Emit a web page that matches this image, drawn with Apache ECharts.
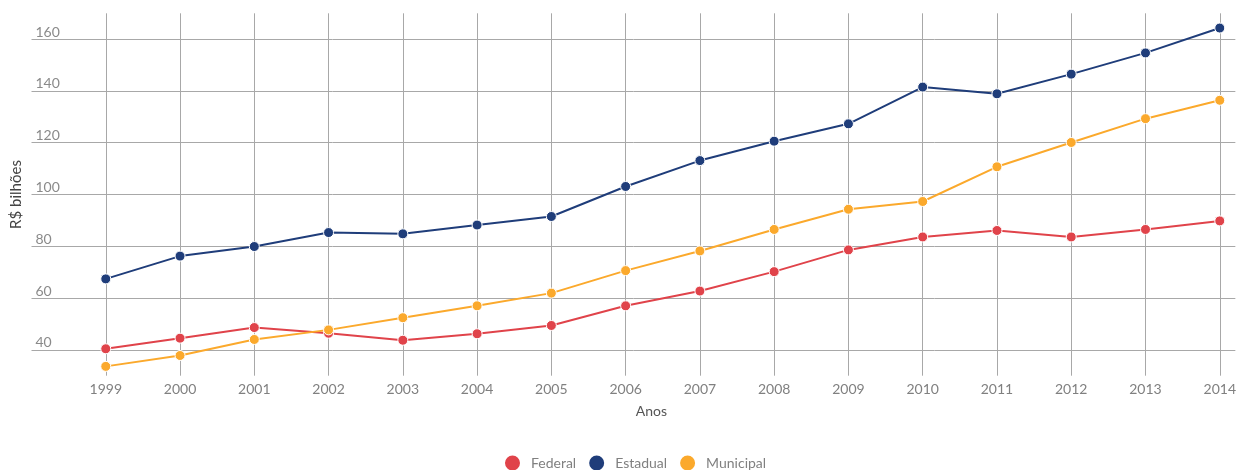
<!DOCTYPE html>
<html>
<head>
<meta charset="utf-8">
<title>R$ bilhões por esfera</title>
<script src="https://cdn.jsdelivr.net/npm/echarts@6/dist/echarts.min.js"></script>
<style>
  html, body { margin: 0; padding: 0; background: #fff; }
  #chart { width: 1239px; height: 470px; }
</style>
</head>
<body>
<div id="chart"></div>
<script>
// anos e valores (R$ bilhões)
var anos = [1999, 2000, 2001, 2002, 2003, 2004, 2005, 2006, 2007, 2008, 2009, 2010, 2011, 2012, 2013, 2014];
var federal = [40.4, 44.5, 48.6, 46.4, 43.7, 46.2, 49.4, 57.0, 62.7, 70.2, 78.6, 83.6, 86.1, 83.6, 86.5, 89.8];
var estadual = [67.4, 76.2, 79.9, 85.3, 84.8, 88.2, 91.5, 103.1, 113.1, 120.6, 127.3, 141.5, 138.9, 146.5, 154.7, 164.3];
var municipal = [33.6, 37.8, 44.0, 47.7, 52.4, 57.0, 61.9, 70.6, 78.2, 86.5, 94.3, 97.3, 110.7, 120.1, 129.3, 136.4];
var nomes = ['Federal', 'Estadual', 'Municipal'];
var cores = ['#e0434a', '#1f3d7a', '#fba92c'];

var FONT = 'Lato, "Open Sans", sans-serif';

function pares(valores) {
    var out = [];
    for (var i = 0; i < anos.length; i++)
        out.push([anos[i], valores[i]]);
    return out;
}

function serie(nome, valores, cor) {
    return {
        name: nome,
        type: 'line',
        data: pares(valores),
        symbol: 'circle',
        symbolSize: 10,
        lineStyle: { width: 2, color: cor },
        itemStyle: { color: cor, borderColor: '#fff', borderWidth: 1 },
        emphasis: { disabled: true }
    };
}

var chart = echarts.init(document.getElementById('chart'));
chart.setOption({
    animation: false,
    color: cores,
    textStyle: { fontFamily: FONT },
    grid: { left: 31.5, right: 0, top: 13.3, bottom: 94.3, containLabel: false },
    xAxis: {
        type: 'value',
        min: 1998,
        max: 2014.21,
        interval: 1,
        name: 'Anos',
        nameLocation: 'middle',
        nameGap: 29,
        nameTextStyle: { fontSize: 14, color: '#555', fontFamily: FONT, padding: [0, 0, 0, 36] },
        axisLine: { show: false },
        axisTick: { show: false },
        axisLabel: {
            showMinLabel: false,
            showMaxLabel: false,
            margin: 7,
            fontSize: 14,
            color: '#808080',
            fontFamily: FONT,
            formatter: function (v) { return String(v); }
        },
        splitLine: {
            show: true,
            showMinLine: false,
            showMaxLine: false,
            lineStyle: { color: '#a8a8a8', width: 1 }
        }
    },
    yAxis: {
        type: 'value',
        min: 30,
        max: 170,
        splitNumber: 7,
        name: 'R$ bilhões',
        nameLocation: 'middle',
        nameGap: 5,
        nameTextStyle: { fontSize: 15, color: '#444', fontFamily: FONT },
        axisLine: { show: false },
        axisTick: { show: false },
        axisLabel: {
            inside: true,
            showMinLabel: false,
            showMaxLabel: false,
            margin: 4,
            verticalAlign: 'bottom',
            fontSize: 14,
            color: '#8a8a8a',
            fontFamily: FONT
        },
        splitLine: {
            show: true,
            showMinLine: false,
            showMaxLine: false,
            lineStyle: { color: '#a8a8a8', width: 1 }
        }
    },
    legend: {
        data: nomes,
        left: 498,
        top: 448.5,
        icon: 'circle',
        itemWidth: 17,
        itemHeight: 17,
        itemGap: 11,
        textStyle: { fontSize: 14, color: '#808080', fontFamily: FONT, padding: [0, 0, 0, 5] }
    },
    series: [
        serie(nomes[0], federal, cores[0]),
        serie(nomes[1], estadual, cores[1]),
        serie(nomes[2], municipal, cores[2])
    ]
});
</script>
</body>
</html>
